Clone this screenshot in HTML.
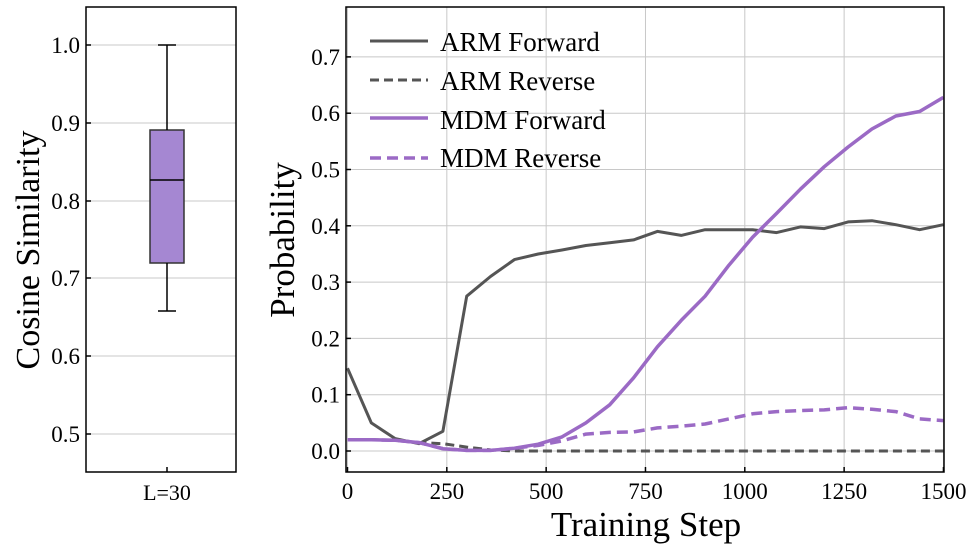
<!DOCTYPE html>
<html><head><style>body{margin:0;background:#fff}svg{display:block}text{font-family:"Liberation Serif",serif;fill:#000}</style></head>
<body>
<svg id="s" width="976" height="549" xmlns="http://www.w3.org/2000/svg">
<g stroke="#c8c8c8" stroke-width="1">
<line x1="86" x2="236" y1="45" y2="45"/><line x1="86" x2="236" y1="123" y2="123"/><line x1="86" x2="236" y1="201" y2="201"/><line x1="86" x2="236" y1="278" y2="278"/><line x1="86" x2="236" y1="356" y2="356"/><line x1="86" x2="236" y1="434" y2="434"/>
</g>
<g font-size="23" text-anchor="end">
<text x="80" y="53">1.0</text><text x="80" y="131">0.9</text><text x="80" y="209">0.8</text><text x="80" y="286">0.7</text><text x="80" y="364">0.6</text><text x="80" y="442">0.5</text>
</g>
<g stroke="#000" stroke-width="1.5">
<line x1="86" x2="91" y1="45" y2="45"/><line x1="86" x2="91" y1="123" y2="123"/><line x1="86" x2="91" y1="201" y2="201"/><line x1="86" x2="91" y1="278" y2="278"/><line x1="86" x2="91" y1="356" y2="356"/><line x1="86" x2="91" y1="434" y2="434"/>
<line x1="167" x2="167" y1="472" y2="467"/>
</g>
<rect x="150" y="130" width="34" height="133" fill="#a587d2" stroke="#333" stroke-width="1.5"/>
<g stroke="#000" stroke-width="1.5">
<line x1="167" x2="167" y1="45" y2="130"/><line x1="167" x2="167" y1="263" y2="311"/>
<line x1="158" x2="176" y1="45" y2="45"/><line x1="158" x2="176" y1="311" y2="311"/>
<line x1="150" x2="184" y1="180" y2="180"/>
</g>
<rect x="86" y="7" width="150" height="465" fill="none" stroke="#000" stroke-width="1.5"/>
<text x="167" y="500" font-size="22" text-anchor="middle">L=30</text>
<text transform="translate(39,250) rotate(-90)" font-size="34" text-anchor="middle">Cosine Similarity</text>

<g id="grid" stroke="#c8c8c8" stroke-width="1"></g>
<g id="ticks" stroke="#000" stroke-width="1.5"></g>
<g id="lab" font-size="23"></g>
<g id="lines" fill="none"></g>
<rect x="346" y="7" width="598" height="465" fill="none" stroke="#000" stroke-width="1.5"/>
<text transform="translate(294,240) rotate(-90)" font-size="35" text-anchor="middle">Probability</text>
<text x="646" y="536" font-size="35" text-anchor="middle">Training Step</text>
<g stroke-width="3" fill="none">
<line x1="370" x2="428" y1="41" y2="41" stroke="#555"/>
<line x1="370" x2="428" y1="80" y2="80" stroke="#555" stroke-dasharray="9,5"/>
<line x1="370" x2="428" y1="118" y2="118" stroke="#9b6ac5" stroke-width="3.5"/>
<line x1="370" x2="428" y1="158" y2="158" stroke="#9b6ac5" stroke-width="3.5" stroke-dasharray="11,6"/>
</g>
<g font-size="27">
<text x="440" y="51">ARM Forward</text><text x="440" y="90">ARM Reverse</text><text x="440" y="129">MDM Forward</text><text x="440" y="167">MDM Reverse</text>
</g>
</svg>
<script>
var NS="http://www.w3.org/2000/svg";
function X(v){return 347.5+v*0.3973}function Y(v){return 451-v*563}
function el(p,t,a,txt){var e=document.createElementNS(NS,t);for(var k in a)e.setAttribute(k,a[k]);if(txt!==undefined)e.textContent=txt;document.getElementById(p).appendChild(e);}
for(var i=0;i<=6;i++){var v=i*250,x=X(v);el("grid","line",{x1:x,x2:x,y1:7,y2:472});el("ticks","line",{x1:x,x2:x,y1:472,y2:467});el("lab","text",{x:x,y:499,"text-anchor":"middle"},v);}
for(var i=0;i<=7;i++){var y=Y(i/10);el("grid","line",{x1:346,x2:944,y1:y,y2:y});el("ticks","line",{x1:346,x2:351,y1:y,y2:y});el("lab","text",{x:340,y:y+8,"text-anchor":"end"},(i/10).toFixed(1));}
var af=[.147,.05,.022,.013,.035,.275,.31,.34,.35,.357,.365,.37,.375,.39,.383,.393,.393,.393,.388,.398,.395,.407,.409,.402,.393,.402];
var ar=[.02,.02,.019,.015,.013,.007,.002,0,0,0,0,0,0,0,0,0,0,0,0,0,0,0,0,0,0,0];
var mf=[.02,.02,.019,.015,.004,.001,.001,.005,.012,.025,.05,.082,.13,.185,.232,.275,.33,.38,.422,.465,.505,.54,.572,.595,.603,.628];
var mr=[.02,.02,.019,.015,.004,.001,.001,.005,.01,.018,.03,.033,.034,.041,.044,.048,.057,.066,.07,.072,.073,.077,.074,.07,.057,.054];
function pl(d,c,w,da){var p=d.map(function(v,i){return X(i*60).toFixed(1)+","+Y(v).toFixed(1)}).join(" ");var a={points:p,stroke:c,"stroke-width":w,"stroke-linejoin":"round"};if(da)a["stroke-dasharray"]=da;el("lines","polyline",a);}
pl(ar,"#555",3,"9,5");pl(af,"#555",3);pl(mr,"#9b6ac5",3.5,"11,6");pl(mf,"#9b6ac5",3.5);
</script>
</body></html>
